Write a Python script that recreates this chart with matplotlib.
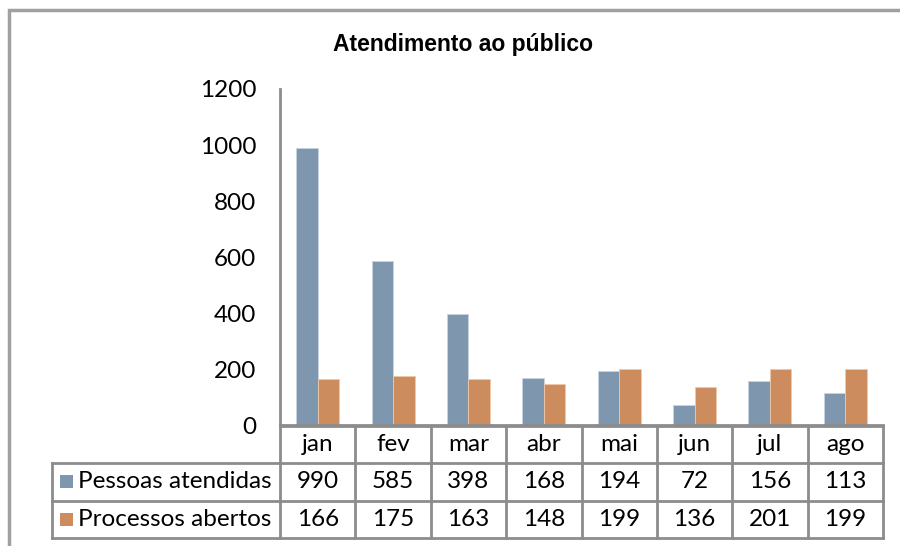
import matplotlib
matplotlib.use("Agg")
import matplotlib.pyplot as plt
from matplotlib.patches import Rectangle
from matplotlib.transforms import blended_transform_factory
import numpy as np

months = ["jan", "fev", "mar", "abr", "mai", "jun", "jul", "ago"]
pessoas = [990, 585, 398, 168, 194, 72, 156, 113]
processos = [166, 175, 163, 148, 199, 136, 201, 199]
series_names = ["Pessoas atendidas", "Processos abertos"]
yticks = [0, 200, 400, 600, 800, 1000, 1200]
title = "Atendimento ao público"

blue = "#7F97AE"
orange = "#CD8C5E"
grid_c = "#8C8C8C"
FONT = ["Lato", "DejaVu Sans"]
FS = 17.5

W, H = 900, 546
fig = plt.figure(figsize=(W / 100, H / 100), dpi=100)

def fx(px):
    return px / W

def fy(py):
    return 1 - py / H

# outer chart border
fig.patches.append(Rectangle((fx(9), fy(600)), fx(950) - fx(9), fy(10) - fy(600),
                             transform=fig.transFigure, fill=False,
                             edgecolor="#A0A0A0", linewidth=2.5))

ax_l, ax_r, ax_t, ax_b = 280, 883, 89, 425
ax = fig.add_axes([fx(ax_l), fy(ax_b), fx(ax_r) - fx(ax_l), fy(ax_t) - fy(ax_b)])

x = np.arange(len(months))
bw = 1 / 3.5
ax.bar(x - bw / 2, pessoas, width=bw, color=blue, edgecolor="#C8D4E0", linewidth=0.6)
ax.bar(x + bw / 2, processos, width=bw, color=orange, edgecolor="#F0C8A8", linewidth=0.6)

ax.set_xlim(-0.5, len(months) - 0.5)
ax.set_ylim(0, 1200)
ax.set_yticks(yticks)
ax.set_yticklabels([str(v) for v in yticks], fontsize=FS, family=FONT)
ax.tick_params(axis="y", length=0, pad=17)
ax.set_xticks([])
for s in ["top", "right"]:
    ax.spines[s].set_visible(False)
ax.spines["left"].set_color(grid_c)
ax.spines["left"].set_linewidth(2)
ax.spines["bottom"].set_color(grid_c)
ax.spines["bottom"].set_linewidth(2)

fig.text(fx(463), fy(45), title, ha="center", va="center",
         fontsize=16.5, fontweight="bold", family=["Liberation Sans", "DejaVu Sans"])

# data table
tr = blended_transform_factory(ax.transData, fig.transFigure)
rows_y = [426, 463, 501, 538]
lw = 2
lc = "#8C8C8C"
col_w_px = (ax_r - ax_l) / len(months)
label_left = -0.5 - (ax_l - 52) / col_w_px

for i in range(len(months) + 1):
    xv = i - 0.5
    fig.add_artist(plt.Line2D([xv, xv], [fy(rows_y[0]), fy(rows_y[3])], transform=tr,
                              color=lc, linewidth=lw, clip_on=False))
fig.add_artist(plt.Line2D([label_left, label_left], [fy(rows_y[1]), fy(rows_y[3])], transform=tr,
                          color=lc, linewidth=lw, clip_on=False))
fig.add_artist(plt.Line2D([-0.5, len(months) - 0.5], [fy(rows_y[0]), fy(rows_y[0])], transform=tr,
                          color=lc, linewidth=lw, clip_on=False))
for ry in rows_y[1:]:
    fig.add_artist(plt.Line2D([label_left, len(months) - 0.5], [fy(ry), fy(ry)], transform=tr,
                              color=lc, linewidth=lw, clip_on=False))

def mid(a, b):
    return fy((a + b) / 2)

for i, m in enumerate(months):
    fig.text(i, mid(rows_y[0], rows_y[1]), m, transform=tr, ha="center", va="center",
             fontsize=FS, family=FONT)
    fig.text(i, mid(rows_y[1], rows_y[2]), str(pessoas[i]), transform=tr, ha="center",
             va="center", fontsize=FS, family=FONT)
    fig.text(i, mid(rows_y[2], rows_y[3]), str(processos[i]), transform=tr, ha="center",
             va="center", fontsize=FS, family=FONT)

for k, (name, col) in enumerate(zip(series_names, [blue, orange])):
    yc = mid(rows_y[1 + k], rows_y[2 + k])
    fig.patches.append(Rectangle((fx(60), yc - (fy(0) - fy(6))), fx(13), fy(0) - fy(13),
                                 transform=fig.transFigure, facecolor=col, edgecolor="none"))
    fig.text(fx(78), yc, name, ha="left", va="center", fontsize=FS, family=FONT)

fig.savefig("out.png", dpi=100)
